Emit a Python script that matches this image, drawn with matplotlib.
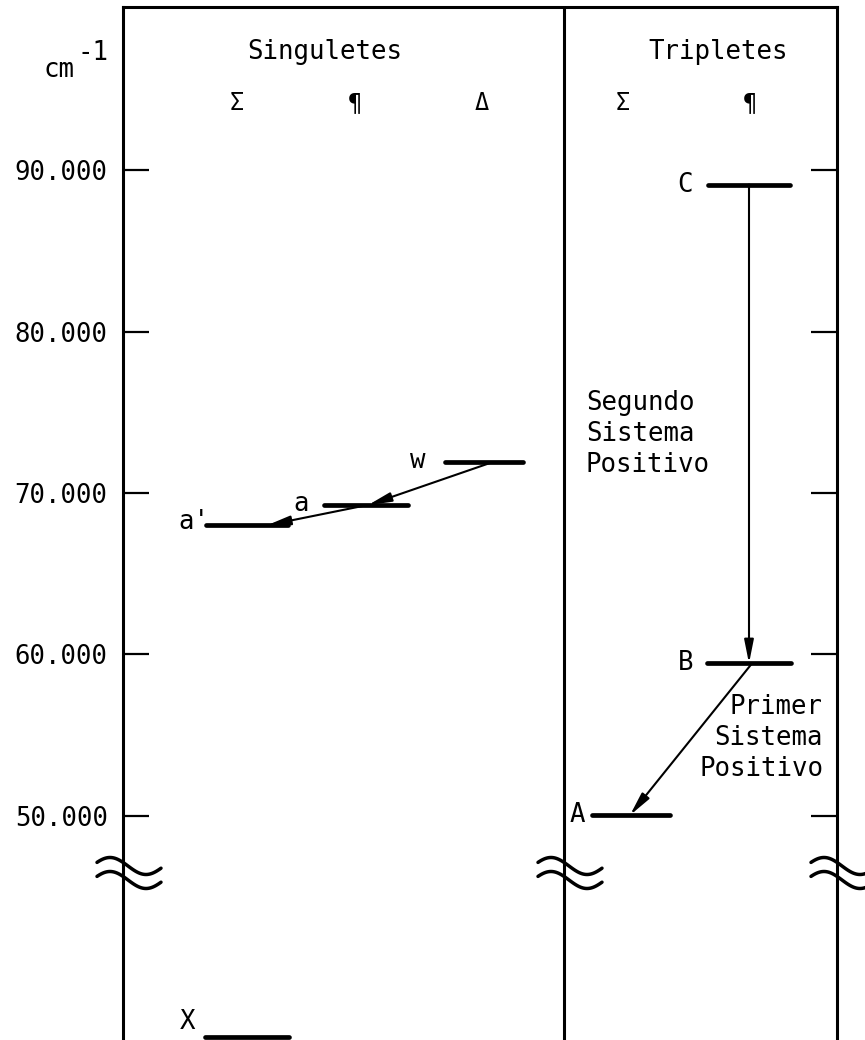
import matplotlib
matplotlib.use("Agg")
import numpy as np
import matplotlib.pyplot as plt
from matplotlib.lines import Line2D

plt.rcParams['font.family'] = ['DejaVu Sans Mono', 'DejaVu Sans']

# estados y energia (cm-1); X queda debajo del corte
estados = ["X", "a'", "a", "w", "A", "B", "C"]
energia = [0, 68000, 69250, 71900, 50050, 59450, 89100]
columna = ["sS", "sS", "sP", "sD", "tS", "tP", "tP"]

# transiciones (desde, hasta)
transiciones = [("w", "a"), ("a", "a'"), ("C", "B"), ("B", "A")]

yticks = [50000, 60000, 70000, 80000, 90000]
ytick_labels = ["50.000", "60.000", "70.000", "80.000", "90.000"]

# ---- layout (pixeles) ----
W, H = 865, 1040
def fx(x):
    return x / W
def fy(y):
    return 1 - y / H

fig = plt.figure(figsize=(W / 100, H / 100), dpi=100)
ax = fig.add_axes([fx(123), fy(1040), fx(837) - fx(123), fy(7) - fy(1040)])
ax.set_xlim(123, 837)
e_px = 10000 / 161.5
ybot = 50000 - (1040 - 816) * e_px
ax.set_ylim(ybot, 90000 + (170 - 7) * e_px)

col_x = {"sS": 247, "sP": 366, "sD": 484, "tS": 631, "tP": 749}
half = {"X": 42, "a'": 41, "a": 42, "w": 39, "A": 39, "B": 42, "C": 41}
lab_dx = {"X": -17, "a'": -12, "a": -23, "w": -27, "A": -15, "B": -21, "C": -23}
lab_dy = {"X": -15, "a'": -3, "a": -1, "w": -1, "A": 0, "B": 0, "C": 0}
arr_dx = {("w", "a"): (8, 2), ("a", "a'"): (1, 20), ("C", "B"): (0, 0), ("B", "A"): (3, -1)}

def y_disp(e):
    return e if e > 45000 else ybot + 3 * e_px

pos = {}
for s, e, c in zip(estados, energia, columna):
    xc = col_x[c]
    yd = y_disp(e)
    pos[s] = (xc, yd)
    ax.plot([xc - half[s], xc + half[s]], [yd, yd], color="black", lw=3.4,
            solid_capstyle="round", clip_on=False)
    ax.annotate(s, xy=(xc - half[s], yd), xytext=(lab_dx[s] * 0.72, -lab_dy[s] * 0.72),
                textcoords="offset points", ha="center", va="center", fontsize=18.5)

for a, b in transiciones:
    d0, d1 = arr_dx[(a, b)]
    ax.annotate("", xy=(pos[b][0] + d1, pos[b][1]), xytext=(pos[a][0] + d0, pos[a][1]),
                arrowprops=dict(arrowstyle="-|>,head_length=0.7,head_width=0.14",
                                mutation_scale=20, color="black", lw=1.5,
                                shrinkA=0, shrinkB=0))

ax.axvline(564, color="black", lw=2.2)
for side in ["left", "right", "top"]:
    ax.spines[side].set_linewidth(2.2)
ax.spines["bottom"].set_visible(False)
ax.set_xticks([])
ax.set_yticks(yticks)
ax.set_yticklabels(ytick_labels)
ax.tick_params(axis="y", direction="in", length=19, width=1.6, left=True, right=True,
               labelleft=True, labelright=False, pad=11, labelsize=18.5)

# cortes del eje
t = np.linspace(-31, 33, 80)
wave = -8.5 * np.sin(2 * np.pi * t / 72)
for xs in [123, 564, 837]:
    for ym in [866, 880]:
        fig.add_artist(Line2D(fx(xs + 5 + t), fy(ym - wave), color="black", lw=2.5,
                              solid_capstyle="round"))

# textos
fig.text(fx(43), fy(70), "cm", ha="left", va="center", fontsize=18.5)
fig.text(fx(78), fy(53), "-1", ha="left", va="center", fontsize=18.5)
fig.text(fx(325), fy(52), "Singuletes", ha="center", va="center", fontsize=18.5)
fig.text(fx(718), fy(52), "Tripletes", ha="center", va="center", fontsize=18.5)
for xh, sym in zip([237, 355, 482, 623, 750], ["Σ", "¶", "Δ", "Σ", "¶"]):
    fig.text(fx(xh), fy(103), sym, ha="center", va="center", fontsize=17)
fig.text(fx(586), fy(434), "Segundo\nSistema\nPositivo", ha="left", va="center",
         fontsize=18.5, linespacing=1.25)
fig.text(fx(823), fy(738), "Primer\nSistema\nPositivo", ha="right", va="center",
         multialignment="right", fontsize=18.5, linespacing=1.25)

fig.savefig("out.png", dpi=100)
